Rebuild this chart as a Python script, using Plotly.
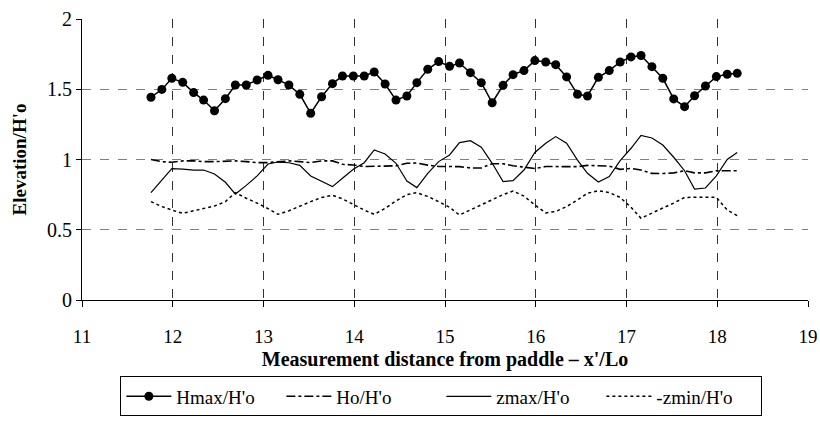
import plotly.graph_objects as go

x_pos = [11.76, 11.88, 11.99, 12.11, 12.23, 12.34, 12.46, 12.58, 12.69, 12.81,
         12.93, 13.05, 13.16, 13.28, 13.40, 13.52, 13.64, 13.76, 13.87, 13.99,
         14.11, 14.22, 14.34, 14.46, 14.58, 14.69, 14.81, 14.93, 15.05, 15.16,
         15.28, 15.40, 15.52, 15.64, 15.75, 15.87, 15.99, 16.11, 16.22, 16.34,
         16.46, 16.57, 16.69, 16.81, 16.93, 17.05, 17.16, 17.28, 17.40, 17.52,
         17.64, 17.75, 17.87, 17.99, 18.11, 18.22]

hmax = [1.443, 1.499, 1.578, 1.549, 1.476, 1.423, 1.347, 1.433, 1.530, 1.530,
        1.566, 1.599, 1.568, 1.530, 1.464, 1.329, 1.447, 1.540, 1.594, 1.594,
        1.594, 1.623, 1.537, 1.423, 1.452, 1.547, 1.642, 1.697, 1.663, 1.687,
        1.618, 1.547, 1.404, 1.528, 1.604, 1.633, 1.704, 1.694, 1.675, 1.588,
        1.464, 1.452, 1.585, 1.633, 1.694, 1.730, 1.740, 1.661, 1.578, 1.431,
        1.376, 1.454, 1.523, 1.590, 1.607, 1.613]

ho = [1.000, 0.985, 0.980, 0.990, 0.990, 0.985, 0.985, 0.990, 0.990, 0.985,
      0.978, 0.978, 0.985, 0.990, 0.985, 0.978, 0.990, 0.990, 0.966, 0.961,
      0.950, 0.950, 0.950, 0.955, 0.973, 0.975, 0.960, 0.950, 0.950, 0.949,
      0.940, 0.940, 0.970, 0.970, 0.955, 0.945, 0.936, 0.950, 0.950, 0.950,
      0.949, 0.958, 0.958, 0.953, 0.930, 0.937, 0.925, 0.901, 0.900, 0.905,
      0.920, 0.905, 0.905, 0.920, 0.920, 0.920]

zmax = [0.764, 0.850, 0.935, 0.932, 0.925, 0.925, 0.897, 0.838, 0.754, 0.816,
        0.883, 0.968, 0.982, 0.977, 0.958, 0.883, 0.845, 0.807, 0.867, 0.930,
        0.977, 1.068, 1.039, 0.973, 0.847, 0.800, 0.902, 0.985, 1.032, 1.120,
        1.134, 1.087, 0.973, 0.843, 0.850, 0.925, 1.050, 1.116, 1.163, 1.116,
        0.996, 0.902, 0.840, 0.878, 0.992, 1.080, 1.172, 1.153, 1.103, 1.016,
        0.920, 0.790, 0.797, 0.883, 1.000, 1.050]

zmin = [0.700, 0.665, 0.640, 0.617, 0.635, 0.650, 0.669, 0.700, 0.764, 0.724,
        0.690, 0.650, 0.610, 0.635, 0.669, 0.700, 0.730, 0.745, 0.720, 0.680,
        0.640, 0.610, 0.652, 0.705, 0.750, 0.764, 0.737, 0.700, 0.660, 0.605,
        0.640, 0.675, 0.710, 0.750, 0.776, 0.740, 0.676, 0.620, 0.630, 0.665,
        0.712, 0.760, 0.778, 0.765, 0.730, 0.660, 0.582, 0.620, 0.655, 0.690,
        0.730, 0.731, 0.731, 0.731, 0.640, 0.600]

FONT = "Liberation Serif, DejaVu Serif, serif"

fig = go.Figure()
fig.add_trace(go.Scatter(x=x_pos, y=hmax, name="Hmax/H'o", mode="lines+markers",
                         line=dict(color="black", width=1.5),
                         marker=dict(color="black", size=9, symbol="circle")))
fig.add_trace(go.Scatter(x=x_pos, y=ho, name="Ho/H'o", mode="lines",
                         line=dict(color="black", width=1.6, dash="dashdot")))
fig.add_trace(go.Scatter(x=x_pos, y=zmax, name="zmax/H'o", mode="lines",
                         line=dict(color="black", width=1.2)))
fig.add_trace(go.Scatter(x=x_pos, y=zmin, name="-zmin/H'o", mode="lines",
                         line=dict(color="black", width=1.5, dash="dot")))

fig.update_layout(
    width=820, height=432,
    margin=dict(l=82, r=12, t=19, b=132, autoexpand=False),
    paper_bgcolor="white", plot_bgcolor="white",
    font=dict(family=FONT, size=19, color="black"),
    showlegend=True,
    legend=dict(orientation="h", x=0.495, xanchor="center", y=-0.272, yanchor="top",
                bordercolor="black", borderwidth=1, bgcolor="white",
                font=dict(family=FONT, size=19), itemwidth=45,
                entrywidth=100, tracegroupgap=0),
    xaxis=dict(range=[11, 19], dtick=1, tick0=11,
               showline=True, linecolor="black", linewidth=1,
               ticks="outside", ticklen=6, tickcolor="black",
               ticklabelstandoff=13,
               showgrid=True, gridcolor="#333333", griddash="dash", gridwidth=1,
               zeroline=False,
               title=dict(text="<b>Measurement distance from paddle – x'/Lo</b>",
                          font=dict(family=FONT, size=20), standoff=6)),
    yaxis=dict(range=[0, 2], dtick=0.5, tick0=0,
               showline=True, linecolor="black", linewidth=1,
               ticks="outside", ticklen=5, tickcolor="black",
               tickfont=dict(size=20),
               showgrid=True, gridcolor="#808080", griddash="dash", gridwidth=1,
               zeroline=False,
               title=dict(text="<b>Elevation/H'o</b>",
                          font=dict(family=FONT, size=19), standoff=15)),
)

fig.write_html("out.html", post_script="document.body.style.margin='0';",
               config={"displayModeBar": False})
